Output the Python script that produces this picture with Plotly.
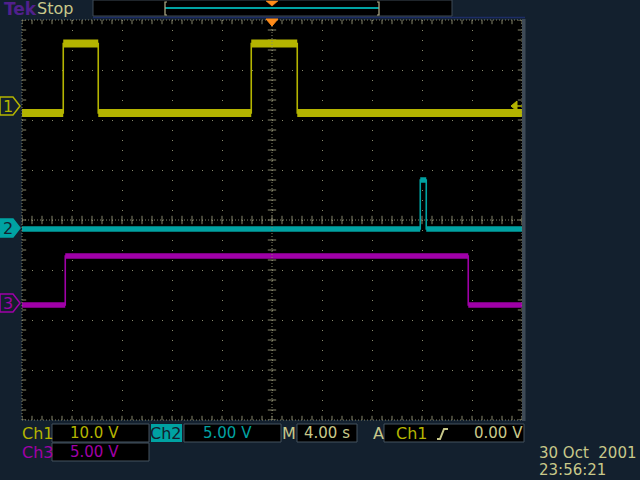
import numpy as np
import plotly.graph_objects as go

# ---------------- data ----------------
time_range_s = [-20.0, 20.0]          # 4.00 s/div, 10 divisions
sec_per_div = 4.0
ch1_edges_s = [-16.7, -13.9, -1.66, 2.02]
ch1_levels_v = [-1.4, 12.5, -1.4, 12.5, -1.4]
ch2_edges_s = [11.86, 12.34]
ch2_levels_v = [-0.1, 4.8, -0.1]
ch3_edges_s = [-16.54, 15.7]
ch3_levels_v = [-0.2, 4.7, -0.2]

ch_scale_v = {1: 10.0, 2: 5.0, 3: 5.0}      # V/div
ch_ground_div = {1: 2.28, 2: -0.16, 3: -1.66}
trigger_level_v = 0.0

readout_ch1 = "10.0 V"
readout_ch2 = "5.00 V"
readout_ch3 = "5.00 V"
readout_time = "4.00 s"
readout_trig = "0.00 V"
date_text = "30 Oct\u00a0\u00a02001"
time_text = "23:56:21"

# ---------------- style ----------------
BG = "#13202e"
YEL = "#b4b400"
TEAL = "#00a2a2"
MAG = "#a000a8"
KHAKI = "#c8c88a"
GRID = "#85856a"
ORANGE = "#ff8c1a"
FONT = "DejaVu Sans"

W, H = 640, 480
L, R, T, B = 22, 522, 20, 420


def PX(x):
    return (x - L) / (R - L)


def PY(y):
    return (B - y) / (B - T)


def to_div(ch, v):
    return ch_ground_div[ch] + v / ch_scale_v[ch]


def step(edges, levels):
    xs, ys = [time_range_s[0]], [levels[0]]
    for e, a, b in zip(edges, levels[:-1], levels[1:]):
        xs += [e, e]
        ys += [a, b]
    xs.append(time_range_s[1])
    ys.append(levels[-1])
    return xs, ys


def flats(edges, levels):
    xs, ys = [], []
    bounds = [time_range_s[0]] + list(edges) + [time_range_s[1]]
    for i, v in enumerate(levels):
        xs += [bounds[i], bounds[i + 1], None]
        ys += [v, v, None]
    return xs, ys


fig = go.Figure()

# tick marks on frame and centre cross (decoration)
xt = np.arange(time_range_s[0], time_range_s[1] + 1e-9, sec_per_div / 5)
yt = np.arange(-4, 4 + 1e-9, 0.2)
for yy in (-4, 0, 4):
    fig.add_trace(go.Scatter(x=xt, y=[yy] * len(xt), mode="markers",
                             marker=dict(symbol="line-ns", size=6,
                                         line=dict(color=GRID, width=1)),
                             hoverinfo="skip", showlegend=False))
for xx in (time_range_s[0], 0, time_range_s[1]):
    fig.add_trace(go.Scatter(x=[xx] * len(yt), y=yt, mode="markers",
                             marker=dict(symbol="line-ew", size=6,
                                         line=dict(color=GRID, width=1)),
                             hoverinfo="skip", showlegend=False))

channels = [
    (1, ch1_edges_s, ch1_levels_v, YEL, 8),
    (3, ch3_edges_s, ch3_levels_v, MAG, 5.5),
    (2, ch2_edges_s, ch2_levels_v, TEAL, 5.5),
]
for ch, edges, levels, col, bw in channels:
    lv = [to_div(ch, v) for v in levels]
    fx, fy = flats(edges, lv)
    fig.add_trace(go.Scatter(x=fx, y=fy, mode="lines",
                             line=dict(color=col, width=bw),
                             hoverinfo="skip", showlegend=False))
    sx, sy = step(edges, lv)
    fig.add_trace(go.Scatter(x=sx, y=sy, mode="lines",
                             line=dict(color=col, width=1.6),
                             name=f"Ch{ch}", showlegend=False))

shapes = []
# frame and centre cross (dotted)
for x0, y0, x1, y1 in [(0, 0, 1, 0), (0, 1, 1, 1), (0, 0, 0, 1), (1, 0, 1, 1),
                       (0, 0.5, 1, 0.5), (0.5, 0, 0.5, 1)]:
    shapes.append(dict(type="line", xref="paper", yref="paper",
                       x0=x0, y0=y0, x1=x1, y1=y1,
                       line=dict(color=GRID, width=1, dash="1px,2px")))
# right edge gray bar
shapes.append(dict(type="rect", xref="paper", yref="paper",
                   x0=PX(522), x1=PX(525.5), y0=PY(421), y1=PY(19),
                   fillcolor="#3e4a56", line=dict(width=0)))
# blue line above plot
shapes.append(dict(type="line", xref="paper", yref="paper",
                   x0=PX(93), x1=PX(525), y0=PY(17.5), y1=PY(17.5),
                   line=dict(color="#1c2c66", width=1.5)))

# channel ground markers
marker_path = "M-22,9 L-9,9 L-2,0 L-9,-9 L-22,-9 Z"
marker_styles = {1: (BG, YEL, YEL), 2: (TEAL, TEAL, BG), 3: (BG, MAG, MAG)}
annotations = []
for ch in (1, 2, 3):
    fill, edge, tcol = marker_styles[ch]
    shapes.append(dict(type="path", xref="paper", yref="y",
                       xsizemode="pixel", ysizemode="pixel",
                       xanchor=0, yanchor=ch_ground_div[ch],
                       path=marker_path, fillcolor=fill,
                       line=dict(color=edge, width=1.5)))
    annotations.append(dict(xref="paper", yref="y", x=0, y=ch_ground_div[ch],
                            xshift=-14, text=str(ch), showarrow=False,
                            font=dict(family=FONT, size=16, color=tcol),
                            xanchor="center", yanchor="middle"))

# trigger level arrow (right)
tl = to_div(1, trigger_level_v)
shapes.append(dict(type="path", xref="paper", yref="y",
                   xsizemode="pixel", ysizemode="pixel",
                   xanchor=1, yanchor=tl,
                   path="M-11,0 L-5,5 L-5,-5 Z", fillcolor=YEL,
                   line=dict(color=YEL, width=1)))
shapes.append(dict(type="path", xref="paper", yref="y",
                   xsizemode="pixel", ysizemode="pixel",
                   xanchor=1, yanchor=tl,
                   path="M-5,0 L0,0", line=dict(color=YEL, width=1.5)))
# trigger position triangle (top)
shapes.append(dict(type="path", xref="x", yref="paper",
                   xsizemode="pixel", ysizemode="pixel",
                   xanchor=0, yanchor=1,
                   path="M-6,1 L6,1 L0,-6 Z", fillcolor=ORANGE,
                   line=dict(color=ORANGE, width=1)))

# record bar at top
shapes.append(dict(type="rect", xref="paper", yref="paper",
                   x0=PX(93), x1=PX(452), y0=PY(16), y1=PY(0),
                   fillcolor="black", line=dict(color="#3e4a56", width=1)))
shapes.append(dict(type="line", xref="paper", yref="paper",
                   x0=PX(165), x1=PX(379), y0=PY(8), y1=PY(8),
                   line=dict(color=TEAL, width=2)))
for bx, d in ((165, 2), (379, -2)):
    shapes.append(dict(type="path", xref="paper", yref="paper",
                       path=f"M{PX(bx + d)},{PY(2)} L{PX(bx)},{PY(2)} "
                            f"L{PX(bx)},{PY(15)} L{PX(bx + d)},{PY(15)}",
                       line=dict(color="#b4b08a", width=1.2)))
shapes.append(dict(type="path", xref="paper", yref="paper",
                   path=f"M{PX(266)},{PY(1)} L{PX(278)},{PY(1)} L{PX(272)},{PY(6)} Z",
                   fillcolor=ORANGE, line=dict(color=ORANGE, width=0.5)))

# bottom readout boxes
box_line = dict(color="#44525e", width=1)
for x0, x1, y0, y1 in [(52, 149, 424, 442), (184, 281, 424, 442),
                       (297, 357, 424, 442), (384, 524, 424, 442),
                       (52, 149, 443, 461)]:
    shapes.append(dict(type="rect", xref="paper", yref="paper",
                       x0=PX(x0), x1=PX(x1), y0=PY(y1), y1=PY(y0),
                       fillcolor="black", line=box_line))
shapes.append(dict(type="rect", xref="paper", yref="paper",
                   x0=PX(151), x1=PX(182), y0=PY(442), y1=PY(424),
                   fillcolor=TEAL, line=dict(width=0)))
# rising edge symbol
shapes.append(dict(type="path", xref="paper", yref="paper",
                   path=f"M{PX(437)},{PY(439)} L{PX(440)},{PY(439)} "
                        f"L{PX(444)},{PY(429)} L{PX(448)},{PY(429)}",
                   line=dict(color=KHAKI, width=2)))


def txt(x, y, s, col, size=15, anchor="center", bold=False):
    if bold:
        s = f"<b>{s}</b>"
    annotations.append(dict(xref="paper", yref="paper", x=PX(x), y=PY(y),
                            text=s, showarrow=False,
                            font=dict(family=FONT, size=size, color=col),
                            xanchor=anchor, yanchor="middle"))


txt(2, 9, "Tek", "#50208c", size=17, anchor="left", bold=True)
txt(35, 9, "Stop", KHAKI, size=16, anchor="left")
txt(20, 433, "Ch1", YEL, size=16, anchor="left")
txt(94, 433, readout_ch1, YEL)
txt(166, 433, "Ch2", BG, size=16)
txt(227, 433, readout_ch2, TEAL)
txt(289, 433, "M", KHAKI, size=16)
txt(327, 433, readout_time, KHAKI)
txt(378, 433, "A", KHAKI, size=16)
txt(412, 433, "Ch1", YEL, size=16)
txt(498, 433, readout_trig, KHAKI)
txt(20, 452, "Ch3", MAG, size=16, anchor="left")
txt(94, 452, readout_ch3, MAG)
txt(537, 453, date_text, KHAKI, anchor="left")
txt(537, 470, time_text, KHAKI, anchor="left")

fig.update_layout(
    width=W, height=H,
    margin=dict(l=L, r=W - R, t=T, b=H - B, pad=0),
    paper_bgcolor=BG, plot_bgcolor="black",
    showlegend=False,
    shapes=shapes, annotations=annotations,
    xaxis=dict(range=time_range_s, tick0=time_range_s[0], dtick=sec_per_div,
               showgrid=True, gridcolor=GRID, gridwidth=1, griddash="1px,9px",
               zeroline=False, showline=False, showticklabels=False,
               ticks="", fixedrange=True),
    yaxis=dict(range=[-4, 4], tick0=-4, dtick=1,
               showgrid=True, gridcolor=GRID, gridwidth=1, griddash="1px,9px",
               zeroline=False, showline=False, showticklabels=False,
               ticks="", fixedrange=True),
)

fig.write_html("out.html", config={"displayModeBar": False},
               post_script="document.body.style.margin='0';"
                           "document.body.style.overflow='hidden';"
                           "document.body.style.background='" + BG + "';")
